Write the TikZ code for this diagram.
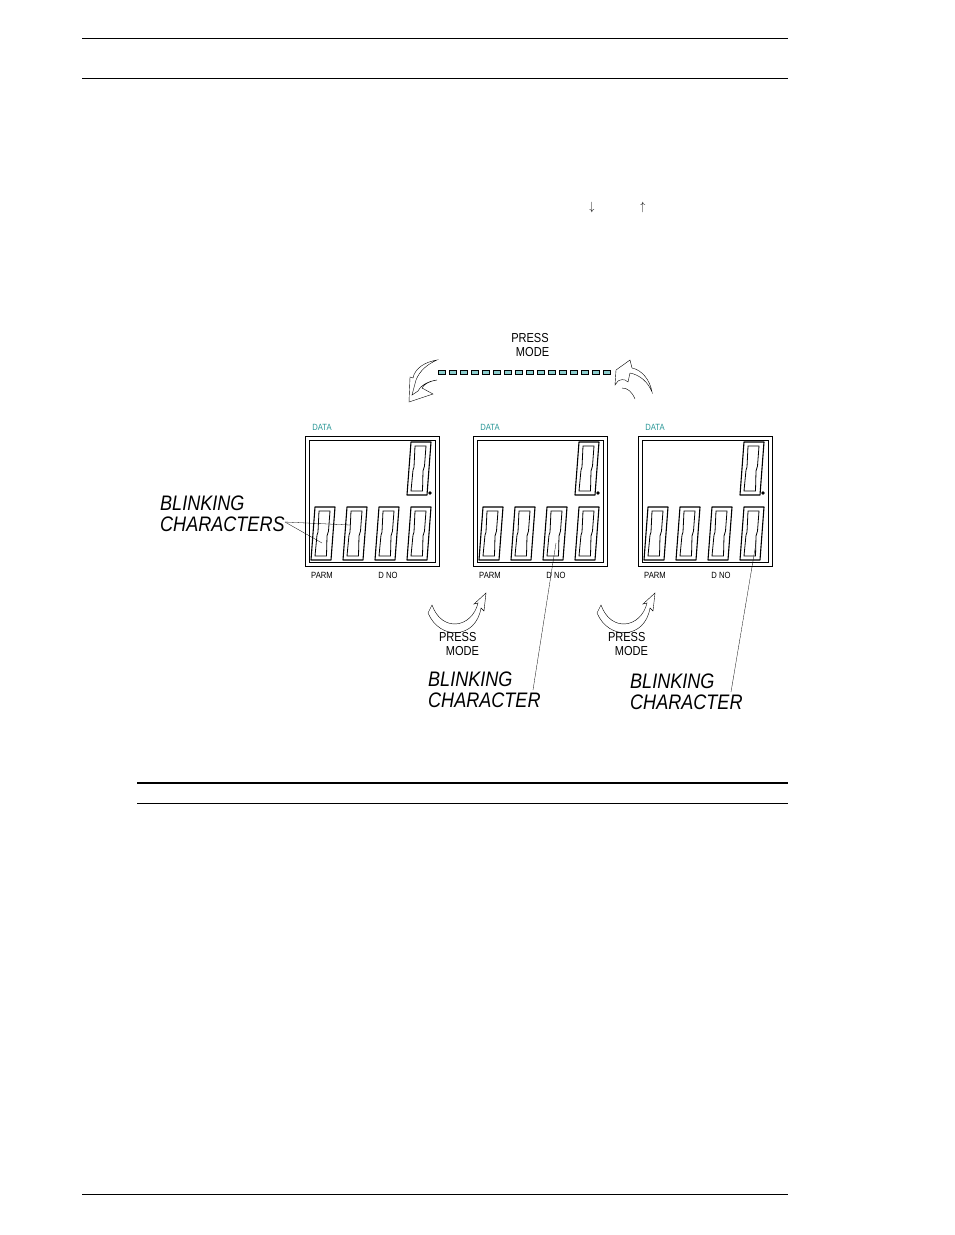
\documentclass[tikz,border=0pt]{standalone}
\usepackage{fontspec}
\setmainfont{Liberation Sans}
\definecolor{lcdteal}{RGB}{40,150,150}
\definecolor{dashcyan}{RGB}{140,205,205}
\tikzset{
  lbl/.style={font=\fontsize{13}{14}\selectfont, xscale=0.85, inner sep=0pt},
  tiny/.style={font=\fontsize{9}{10}\selectfont, xscale=0.85, inner sep=0pt},
  blink/.style={font=\fontsize{21}{21}\selectfont\itshape, xscale=0.86, inner sep=0pt, align=left},
  hollow/.style={draw, fill=white, line width=0.4pt}
}
% one slanted seven segment "0"
\newcommand{\zerodigit}[2]{%
  \draw[line width=1.1pt, line join=round] (#1+4,#2) -- (#1+24,#2) -- (#1+20,#2+53) -- (#1,#2+53) -- cycle;
  \draw[line width=0.8pt] (#1+8,#2+4) -- (#1+19,#2+4) -- (#1+17.5,#2+24) -- (#1+16,#2+29) -- (#1+15.5,#2+49) -- (#1+4,#2+49) -- (#1+6,#2+28) -- (#1+7,#2+25) -- cycle;}
% one display
\newcommand{\lcd}[2]{%
  \draw (#1,#2) rectangle (#1+134,#2+130);
  \draw (#1+4,#2+4) rectangle (#1+130,#2+126);
  \node[tiny, text=lcdteal] at (#1+17,#2-9) {DATA};
  \node[tiny] at (#1+17,#2+139) {PARM};
  \node[tiny] at (#1+83,#2+139) {D NO};
  \zerodigit{#1+102}{#2+6}
  \fill (#1+125,#2+57) circle (1.8);
  \foreach \k in {0,1,2,3} {\zerodigit{#1+6+32*\k}{#2+71}}}
% small curved press arrow
\newcommand{\pressarrow}[2]{%
  \draw[hollow] (#1,#2+12) .. controls (#1+10,#2+40) and (#1+40,#2+35) .. (#1+46,#2+10)
    -- (#1+42,#2+11) -- (#1+54,#2) -- (#1+52,#2+18) -- (#1+49,#2+15)
    .. controls (#1+44,#2+46) and (#1+8,#2+48) .. (#1-4,#2+20) -- cycle;}
\begin{document}
\begin{tikzpicture}[x=1pt,y=-1pt]
\useasboundingbox (0,0) rectangle (954,1235);
% page rules
\draw (82,38) -- (788,38);
\draw (82,78) -- (788,78);
\draw[line width=1.6pt] (137,783) -- (788,783);
\draw (137,803) -- (788,803);
\draw (82,1194) -- (788,1194);
\node[lbl] (dn) at (592,207) {$\downarrow$};
\node[lbl] (up) at (643,207) {$\uparrow$};

% top mode loop
\node[lbl, align=center] (pm) at (530,345) {PRESS\\\hspace*{6pt}MODE};
\foreach \i in {0,...,15}
  \draw[fill=dashcyan, line width=0.4pt] (438+11*\i,370) rectangle +(7,4);
\draw[hollow] (437,360) .. controls (425,362) and (415,368) .. (413,378) -- (410,377) -- (409,402)
  -- (433,394) -- (422,388) .. controls (424,384) and (430,381) .. (437,380)
  .. controls (428,381) and (420,386) .. (418,391) -- (412,395) -- (416,380) .. controls (420,370) and (428,364) .. cycle;
\draw[hollow] (615,385) -- (616,370) -- (630,360) -- (632,368)
  .. controls (642,370) and (650,380) .. (652,392)
  .. controls (648,382) and (640,375) .. (630,373) -- (628,382) .. controls (624,378) and (620,380) .. (618,381) -- cycle;
\draw (622,388) .. controls (628,388) and (632,392) .. (635,399);

% displays
\lcd{305}{436}
\lcd{473}{436}
\lcd{638}{436}

% press arrows under
\pressarrow{432}{593}
\pressarrow{601}{593}
\node[lbl, align=left] (p1) at (459,644) {PRESS\\\hspace*{8pt}MODE};
\node[lbl, align=left] (p2) at (628,644) {PRESS\\\hspace*{8pt}MODE};

% blinking labels
\node[blink, anchor=west] (b1) at (160,514) {BLINKING\\CHARACTERS};
\node[blink, anchor=west] (b2) at (428,690) {BLINKING\\CHARACTER};
\node[blink, anchor=west] (b3) at (630,692) {BLINKING\\CHARACTER};
\coordinate (t1) at (350,525);
\coordinate (t2) at (322,543);
\draw[line width=0.3pt] (285,522) -- (t1);
\draw[line width=0.3pt] (285,522) -- (t2);
\draw[line width=0.3pt] (533,690) -- (556,543);
\draw[line width=0.3pt] (731,692) -- (756,543);
\end{tikzpicture}
\end{document}
